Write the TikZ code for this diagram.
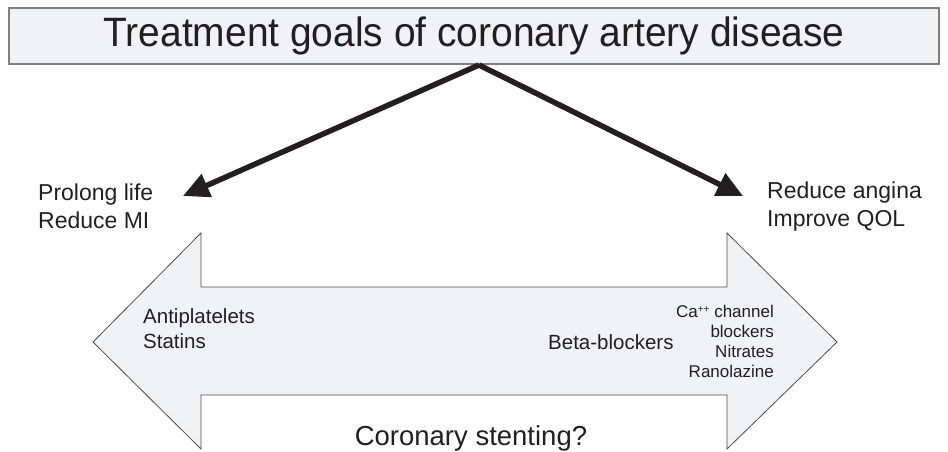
\documentclass[tikz,border=0pt]{standalone}
\usepackage{fontspec}
\setmainfont{Liberation Sans}
\usetikzlibrary{arrows.meta,positioning}
\definecolor{boxfill}{HTML}{F1F2F4}
\definecolor{ink}{HTML}{231F20}
\definecolor{rim}{HTML}{808080}

\tikzset{
goal/.style={anchor=base west, inner sep=0pt, font=\fontsize{23}{28}\selectfont, text=ink},
drug/.style={anchor=base west, inner sep=0pt, font=\fontsize{20.5}{24}\selectfont, text=ink},
minor/.style={anchor=base east, inner sep=0pt, font=\fontsize{17}{20}\selectfont, text=ink},
aim/.style={draw=ink, line width=5.5pt, -{Triangle[length=26pt,width=24pt]}},
}

\begin{document}
\begin{tikzpicture}[x=1pt,y=-1pt]
\useasboundingbox (0,0) rectangle (948,452);

\node[draw=rim, fill=boxfill, line width=1.3pt, minimum width=930pt, minimum height=56pt, inner sep=0pt,
      font=\fontsize{41}{48}\selectfont, text=ink] (title) at (474,36)
      {\scalebox{0.95}[1]{Treatment goals of coronary artery disease}};

% two-headed band
\draw[draw=ink!80, fill=boxfill, line width=0.8pt]
  (93,342) -- (201,233) -- (201,287) -- (727,287) -- (727,233) -- (837,342)
  -- (727,449) -- (727,395) -- (201,395) -- (201,449) -- cycle;

\node[goal] (life) at (38,200) {Prolong life};
\node[goal] (mi) at ([yshift=-28pt]life.base west) {Reduce MI};
\node[goal] (angina) at (767,198) {Reduce angina};
\node[goal] (qol) at ([yshift=-28pt]angina.base west) {Improve QOL};

\coordinate (apex) at (479,65);
\coordinate (lefttip) at (183,196);
\coordinate (righttip) at (743,196);
\draw[aim] (apex) -- (lefttip);
\draw[aim] (apex) -- (righttip);

\node[drug] (anti) at (143,323) {Antiplatelets};
\node[drug] (statins) at ([yshift=-25pt]anti.base west) {Statins};
\node[drug] (beta) at (548,349) {Beta-blockers};

\node[minor] (ca) at (774,317) {Ca\raisebox{0.55ex}{\fontsize{10}{10}\selectfont ++} channel};
\node[minor] (block) at ([yshift=-20pt]ca.base east) {blockers};
\node[minor] (nitr) at ([yshift=-20pt]block.base east) {Nitrates};
\node[minor] (rano) at ([yshift=-20pt]nitr.base east) {Ranolazine};

\node[anchor=base, inner sep=0pt, font=\fontsize{27.5}{32}\selectfont, text=ink] (stent) at (471,445) {Coronary stenting?};
\end{tikzpicture}
\end{document}
